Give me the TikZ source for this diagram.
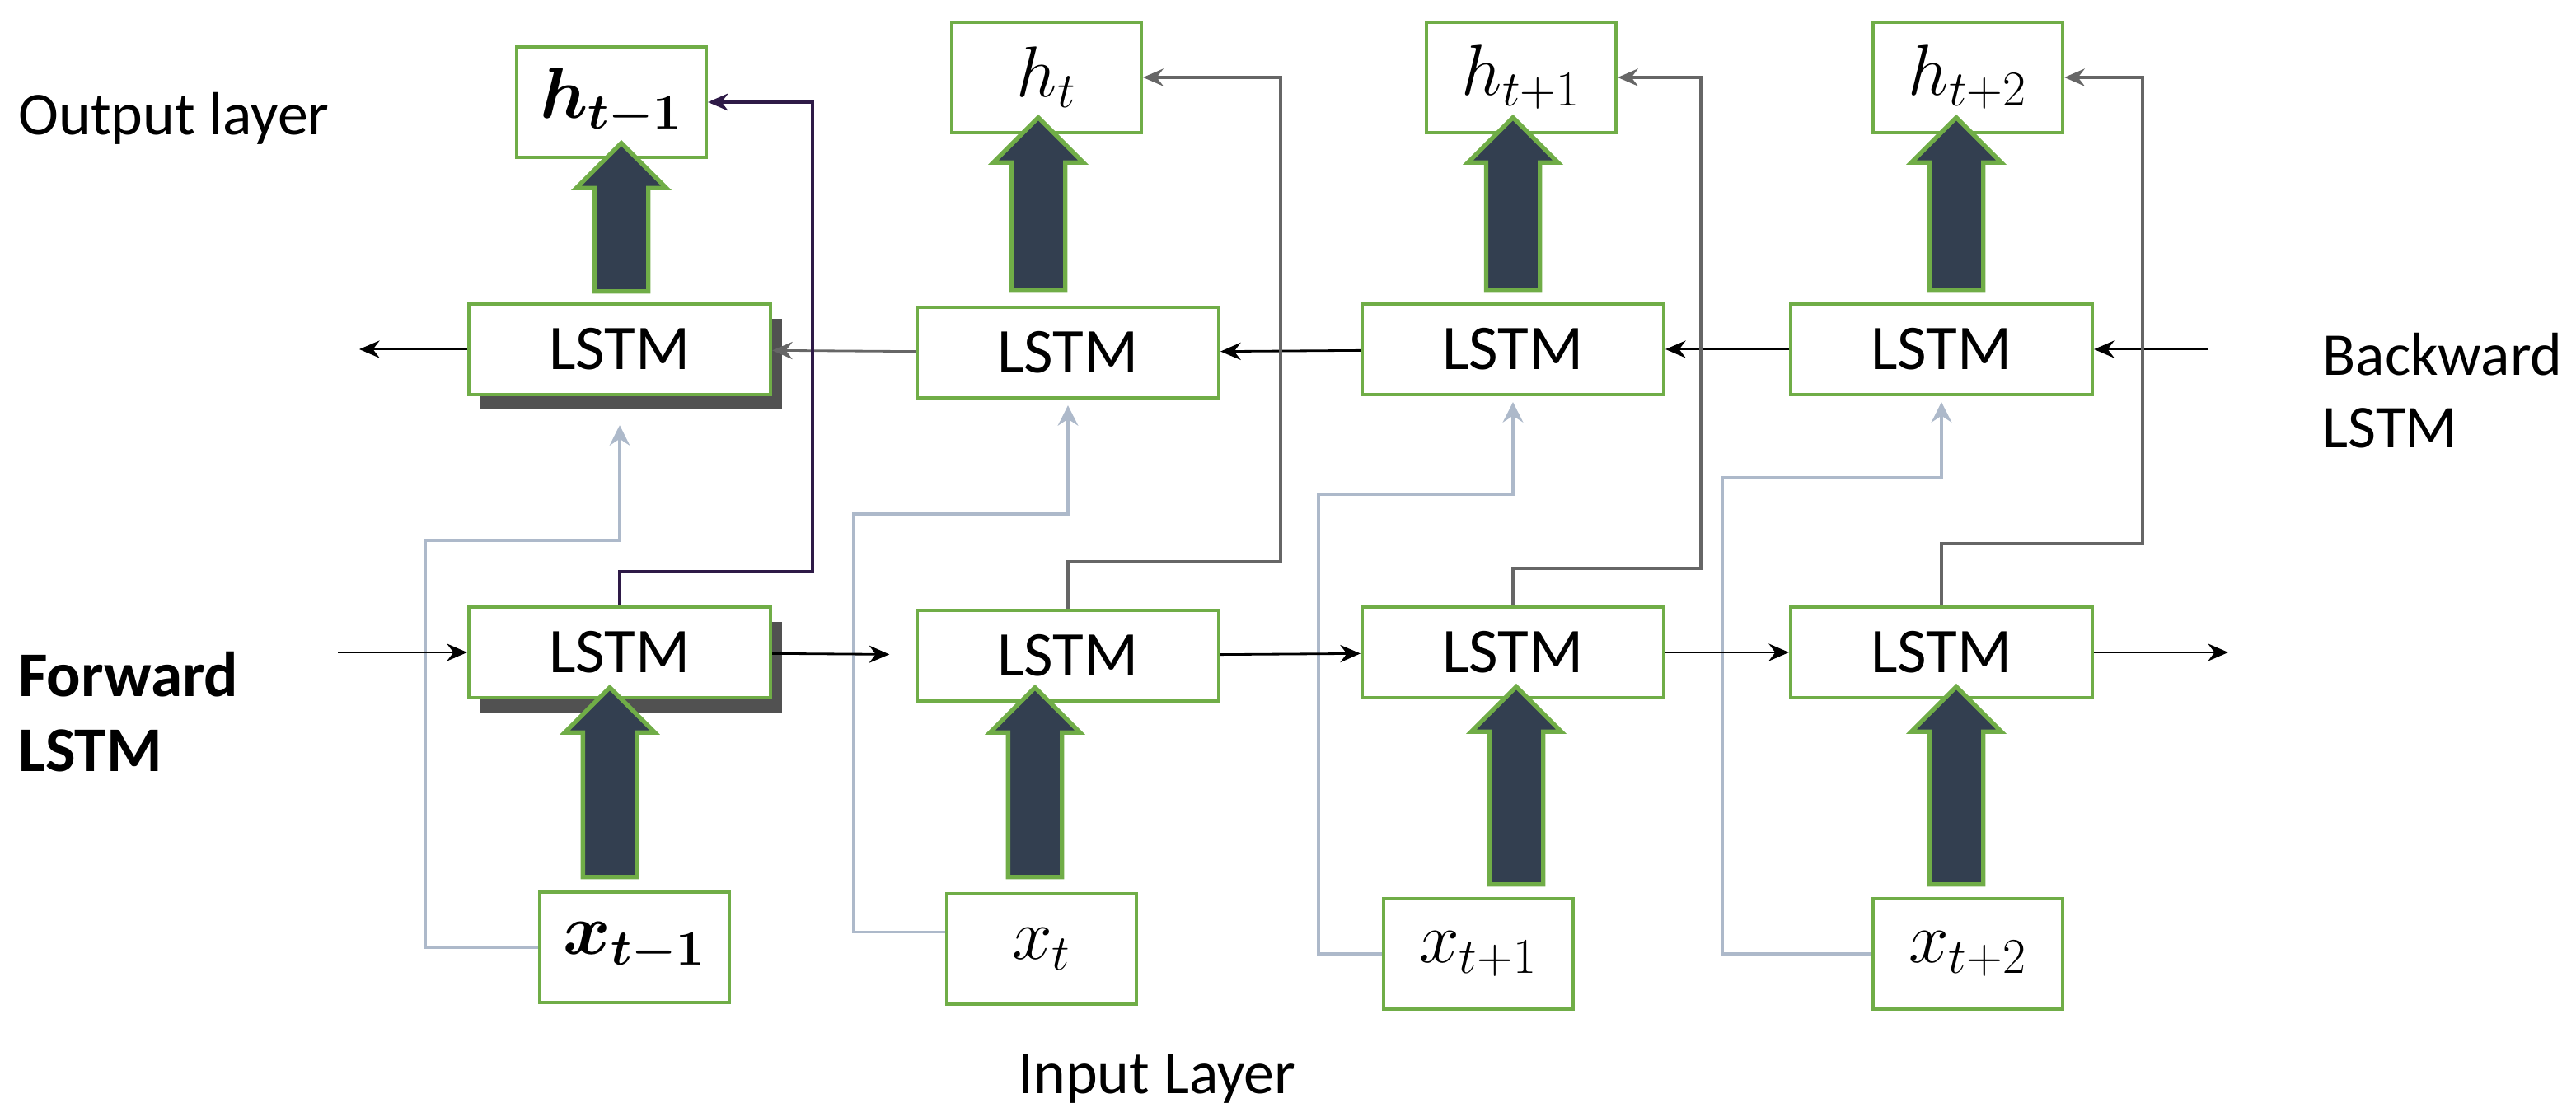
\documentclass[tikz,border=0pt]{standalone}
\usepackage{fontspec}
\usepackage{amsmath}
\setmainfont{Carlito}
\usetikzlibrary{shapes.arrows,shadows,arrows.meta,positioning}
\definecolor{boxgreen}{RGB}{112,173,71}
\definecolor{slate}{RGB}{51,63,80}
\definecolor{paleblue}{RGB}{173,185,202}
\definecolor{midblue}{RGB}{132,151,176}
\definecolor{darkplum}{RGB}{46,26,71}
\tikzset{
 box/.style={draw=boxgreen,line width=1.2pt,fill=white,inner sep=0pt},
 lstm/.style={box,minimum width=3.66cm,minimum height=1.1cm,font=\fontsize{22}{26}\selectfont},
 io/.style={box,minimum width=2.3cm,minimum height=1.34cm,font=\fontsize{24}{28}\selectfont},
 fat/.style={single arrow,draw=boxgreen,line width=1.5pt,fill=slate,rotate=90,
   inner sep=0pt,inner ysep=0.3cm,minimum width=1.05cm,single arrow head extend=0.22cm},
 flow/.style={-{Stealth[length=7pt,width=6pt]},line width=0.8pt},
 feed/.style={-{Stealth[length=7pt,width=7pt]},line width=1pt,draw=paleblue},
 skip/.style={-{Stealth[length=7pt,width=6pt]},line width=1pt,draw=black!60},
 shade1/.style={drop shadow={shadow xshift=4pt,shadow yshift=-5pt,opacity=.85,fill=black!80}}
}
\begin{document}
\begin{tikzpicture}[x=0.02cm,y=-0.02cm]
\useasboundingbox (0,0) rectangle (1563,678);

% labels
\node[anchor=west,font=\fontsize{21}{25}\selectfont] (outlab) at (5,72) {Output layer};
\node[anchor=west,align=left,font=\fontsize{22}{26}\selectfont\bfseries] (fwdlab) at (5,432) {Forward\\LSTM};
\node[anchor=east,align=left,font=\fontsize{21}{25}\selectfont] (bwdlab) at (1561,237) {Backward\\LSTM};
\node[font=\fontsize{21}{25}\selectfont] (inlab) at (702,655) {Input Layer};

% outputs
\node[io] (o1) at (371,62) {$\boldsymbol{h_{t-1}}$};
\node[io] (o2) at (635,47) {$h_t$};
\node[io] (o3) at (923,47) {$h_{t+1}$};
\node[io] (o4) at (1194,47) {$h_{t+2}$};

% bends
\coordinate (k1) at (493,347);
\coordinate (k2) at (777,341);
\coordinate (k3) at (1032,345);
\coordinate (k4) at (1300,330);
\coordinate (g1) at (258,328);
\coordinate (g2) at (518,312);
\coordinate (g3) at (800,300);
\coordinate (g4) at (1045,290);

% inputs
\node[io] (x1) at (385,575) {$\boldsymbol{x_{t-1}}$};
\node[io] (x2) at (632,576) {$x_t$};
\node[io] (x3) at (897,579) {$x_{t+1}$};
\node[io] (x4) at (1194,579) {$x_{t+2}$};

% backward row
\node[lstm,shade1] (lb1) at (376,212) {LSTM};
\node[lstm] (lb2) at (648,214) {LSTM};
\node[lstm] (lb3) at (918,212) {LSTM};
\node[lstm] (lb4) at (1178,212) {LSTM};

\draw[feed,shorten >=10pt] (x1.west) -| (g1) -| (lb1.south);
\draw[feed,shorten >=2pt] (x2.170) -| (g2) -| (lb2.south);
\draw[feed,shorten >=2pt] (x3.west) -| (g3) -| (lb3.south);
\draw[feed,shorten >=2pt] (x4.west) -| (g4) -| (lb4.south);

% forward row
\node[lstm,shade1] (lf1) at (376,396) {LSTM};
\node[lstm] (lf2) at (648,398) {LSTM};
\node[lstm] (lf3) at (918,396) {LSTM};
\node[lstm] (lf4) at (1178,396) {LSTM};

% thick arrows
\node[fat,minimum height=1.8cm] (up1) at (377,140) {};
\node[fat,minimum height=2.1cm] (up2) at (630,132) {};
\node[fat,minimum height=2.1cm] (up3) at (918,132) {};
\node[fat,minimum height=2.1cm] (up4) at (1187,132) {};
\node[fat,minimum height=2.3cm] (in1) at (370,483) {};
\node[fat,minimum height=2.3cm] (in2) at (628,483) {};
\node[fat,minimum height=2.4cm] (in3) at (920,485) {};
\node[fat,minimum height=2.4cm] (in4) at (1187,485) {};

% ends of the open arrows
\coordinate (bin) at (1340,212);
\coordinate (bout) at (218,212);
\coordinate (fin) at (205,396);
\coordinate (fout) at (1352,396);

\draw[flow] (bin) -- (lb4);
\draw[flow] (lb4) -- (lb3);
\draw[flow] (lb3) -- (lb2);
\draw[flow,draw=black!60] (lb2) -- (lb1);
\draw[flow] (lb1) -- (bout);

\draw[flow] (fin) -- (lf1);
\draw[flow,shorten >=9pt] (lf1) -- (lf2);
\draw[flow] (lf2) -- (lf3);
\draw[flow] (lf3) -- (lf4);
\draw[flow] (lf4) -- (fout);

\draw[skip,draw=darkplum] (lf1.north) |- (k1) |- (o1.east);
\draw[skip] (lf2.north) |- (k2) |- (o2.east);
\draw[skip] (lf3.north) |- (k3) |- (o3.east);
\draw[skip] (lf4.north) |- (k4) |- (o4.east);
\end{tikzpicture}
\end{document}
